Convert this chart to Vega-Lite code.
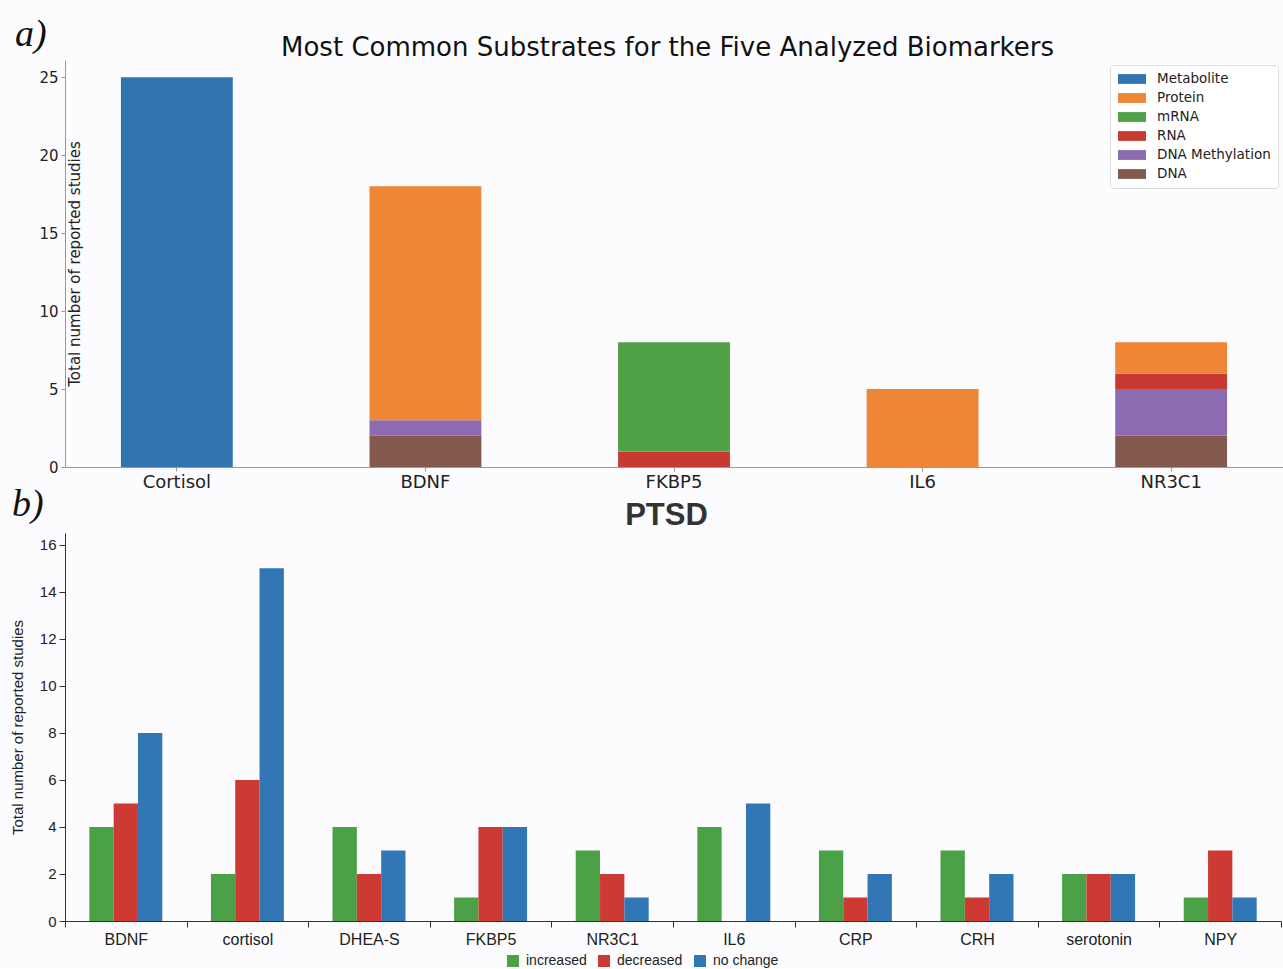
{
  "$schema": "https://vega.github.io/schema/vega-lite/v6.json",
  "background": "#fcfcfe",
  "padding": {"left": 10, "top": 16, "right": 0, "bottom": 0},
  "spacing": -5,
  "datasets": {
    "substrates": [
      {"biomarker": "Cortisol", "substrate": "Metabolite", "count": 25, "stack": 6},
      {"biomarker": "BDNF", "substrate": "DNA", "count": 2, "stack": 1},
      {"biomarker": "BDNF", "substrate": "DNA Methylation", "count": 1, "stack": 2},
      {"biomarker": "BDNF", "substrate": "Protein", "count": 15, "stack": 5},
      {"biomarker": "FKBP5", "substrate": "RNA", "count": 1, "stack": 3},
      {"biomarker": "FKBP5", "substrate": "mRNA", "count": 7, "stack": 4},
      {"biomarker": "IL6", "substrate": "Protein", "count": 5, "stack": 5},
      {"biomarker": "NR3C1", "substrate": "DNA", "count": 2, "stack": 1},
      {"biomarker": "NR3C1", "substrate": "DNA Methylation", "count": 3, "stack": 2},
      {"biomarker": "NR3C1", "substrate": "RNA", "count": 1, "stack": 3},
      {"biomarker": "NR3C1", "substrate": "Protein", "count": 2, "stack": 5}
    ],
    "ptsd": [
      {"biomarker": "BDNF", "change": "increased", "count": 4},
      {"biomarker": "BDNF", "change": "decreased", "count": 5},
      {"biomarker": "BDNF", "change": "no change", "count": 8},
      {"biomarker": "cortisol", "change": "increased", "count": 2},
      {"biomarker": "cortisol", "change": "decreased", "count": 6},
      {"biomarker": "cortisol", "change": "no change", "count": 15},
      {"biomarker": "DHEA-S", "change": "increased", "count": 4},
      {"biomarker": "DHEA-S", "change": "decreased", "count": 2},
      {"biomarker": "DHEA-S", "change": "no change", "count": 3},
      {"biomarker": "FKBP5", "change": "increased", "count": 1},
      {"biomarker": "FKBP5", "change": "decreased", "count": 4},
      {"biomarker": "FKBP5", "change": "no change", "count": 4},
      {"biomarker": "NR3C1", "change": "increased", "count": 3},
      {"biomarker": "NR3C1", "change": "decreased", "count": 2},
      {"biomarker": "NR3C1", "change": "no change", "count": 1},
      {"biomarker": "IL6", "change": "increased", "count": 4},
      {"biomarker": "IL6", "change": "decreased", "count": 0},
      {"biomarker": "IL6", "change": "no change", "count": 5},
      {"biomarker": "CRP", "change": "increased", "count": 3},
      {"biomarker": "CRP", "change": "decreased", "count": 1},
      {"biomarker": "CRP", "change": "no change", "count": 2},
      {"biomarker": "CRH", "change": "increased", "count": 3},
      {"biomarker": "CRH", "change": "decreased", "count": 1},
      {"biomarker": "CRH", "change": "no change", "count": 2},
      {"biomarker": "serotonin", "change": "increased", "count": 2},
      {"biomarker": "serotonin", "change": "decreased", "count": 2},
      {"biomarker": "serotonin", "change": "no change", "count": 2},
      {"biomarker": "NPY", "change": "increased", "count": 1},
      {"biomarker": "NPY", "change": "decreased", "count": 3},
      {"biomarker": "NPY", "change": "no change", "count": 1}
    ]
  },
  "config": {
    "view": {"stroke": null},
    "axis": {"grid": false}
  },
  "resolve": {"scale": {"color": "independent"}},
  "vconcat": [
    {
      "title": {"text": "a)", "anchor": "start", "frame": "group", "dx": -50, "font": "Liberation Serif", "fontStyle": "italic", "fontSize": 38, "fontWeight": "normal", "color": "#111", "offset": -20},
      "data": {"name": "substrates"},
      "width": 1218,
      "height": 407,
      "layer": [
        {
          "mark": {"type": "bar"},
          "encoding": {
            "x": {
              "field": "biomarker", "type": "nominal",
              "sort": ["Cortisol", "BDNF", "FKBP5", "IL6", "NR3C1"],
              "scale": {"paddingInner": 0.55, "paddingOuter": 0.225},
              "axis": {"title": null, "labelAngle": 0, "labelFont": "DejaVu Sans", "labelFontSize": 18, "labelColor": "#222", "domainColor": "#999", "tickColor": "#999", "tickSize": 4, "labelPadding": 2}
            },
            "y": {
              "field": "count", "type": "quantitative", "stack": "zero",
              "scale": {"domain": [0, 26.1], "nice": false},
              "axis": {"title": "Total number of reported studies", "values": [0, 5, 10, 15, 20, 25], "titleX": 17, "titleFont": "DejaVu Sans", "titleFontSize": 15, "titleFontWeight": "normal", "titleColor": "#222", "labelFont": "DejaVu Sans", "labelFontSize": 15, "labelColor": "#222", "domainColor": "#999", "tickColor": "#999", "tickSize": 4, "labelPadding": 3}
            },
            "order": {"field": "stack", "type": "quantitative"},
            "color": {
              "field": "substrate", "type": "nominal",
              "scale": {
                "domain": ["Metabolite", "Protein", "mRNA", "RNA", "DNA Methylation", "DNA"],
                "range": ["#3174b0", "#ef8636", "#50a046", "#c63a32", "#8c6bb1", "#855a4e"]
              },
              "legend": {
                "title": null, "orient": "top-right", "offset": 5,
                "symbolType": "M-2,-0.7H2V0.7H-2Z", "symbolSize": 196, "symbolStrokeWidth": 0,
                "labelFont": "DejaVu Sans", "labelFontSize": 13.5, "labelColor": "#222",
                "labelOffset": 18, "rowPadding": 5, "padding": 7, "symbolOffset": 8,
                "fillColor": "#ffffff", "strokeColor": "#dddddd", "cornerRadius": 3
              }
            }
          }
        },
        {
          "mark": {"type": "bar", "opacity": 0},
          "encoding": {
            "x": {
              "field": "biomarker", "type": "nominal",
              "sort": ["Cortisol", "BDNF", "FKBP5", "IL6", "NR3C1"],
              "axis": {"orient": "top", "title": "Most Common Substrates for the Five Analyzed Biomarkers", "labels": false, "ticks": false, "domain": false, "titleFont": "DejaVu Sans", "titleFontSize": 26, "titleFontWeight": "normal", "titleColor": "#111", "titlePadding": 0, "titleX": 602}
            },
            "y": {"field": "count", "type": "quantitative", "stack": null}
          }
        }
      ],
      "resolve": {"axis": {"x": "independent"}}
    },
    {
      "title": {"text": "b)", "anchor": "start", "frame": "group", "dx": -53, "font": "Liberation Serif", "fontStyle": "italic", "fontSize": 38, "fontWeight": "normal", "color": "#111", "offset": -25},
      "data": {"name": "ptsd"},
      "width": 1216,
      "height": 388,
      "layer": [
        {
          "mark": {"type": "bar"},
          "encoding": {
            "x": {
              "field": "biomarker", "type": "nominal",
              "sort": ["BDNF", "cortisol", "DHEA-S", "FKBP5", "NR3C1", "IL6", "CRP", "CRH", "serotonin", "NPY"],
              "scale": {"paddingInner": 0, "paddingOuter": 0},
              "axis": {"title": null, "labelAngle": 0, "tickBand": "extent", "labelFont": "Liberation Sans", "labelFontSize": 16, "labelColor": "#222", "domainColor": "#333", "tickColor": "#333", "tickSize": 6, "labelPadding": 4}
            },
            "xOffset": {
              "field": "change", "type": "nominal",
              "sort": ["increased", "decreased", "no change"],
              "scale": {"paddingInner": 0, "paddingOuter": 1}
            },
            "y": {
              "field": "count", "type": "quantitative",
              "scale": {"domain": [0, 16.5], "nice": false},
              "axis": {"title": "Total number of reported studies", "values": [0, 2, 4, 6, 8, 10, 12, 14, 16], "titleFont": "Liberation Sans", "titleFontSize": 15, "titleFontWeight": "normal", "titleColor": "#222", "labelFont": "Liberation Sans", "labelFontSize": 15, "labelColor": "#222", "domainColor": "#333", "tickColor": "#333", "tickSize": 6, "labelPadding": 3, "titlePadding": 14}
            },
            "color": {
              "field": "change", "type": "nominal",
              "scale": {
                "domain": ["increased", "decreased", "no change"],
                "range": ["#4ca146", "#cc3a33", "#3277b5"]
              },
              "legend": {
                "title": null, "orient": "none", "direction": "horizontal", "legendX": 441, "legendY": 421,
                "symbolType": "square", "symbolSize": 144, "symbolStrokeWidth": 0,
                "labelFont": "Liberation Sans", "labelFontSize": 14, "labelColor": "#222",
                "labelOffset": 6, "columnPadding": 10, "padding": 0
              }
            }
          }
        },
        {
          "mark": {"type": "bar", "opacity": 0},
          "encoding": {
            "x": {
              "field": "biomarker", "type": "nominal",
              "sort": ["BDNF", "cortisol", "DHEA-S", "FKBP5", "NR3C1", "IL6", "CRP", "CRH", "serotonin", "NPY"],
              "axis": {"orient": "top", "title": "PTSD", "labels": false, "ticks": false, "domain": false, "titleFont": "Liberation Sans", "titleFontSize": 31, "titleFontWeight": "bold", "titleColor": "#333", "titlePadding": 2, "titleX": 601}
            },
            "y": {"field": "count", "type": "quantitative", "stack": null}
          }
        }
      ],
      "resolve": {"axis": {"x": "independent"}}
    }
  ]
}
